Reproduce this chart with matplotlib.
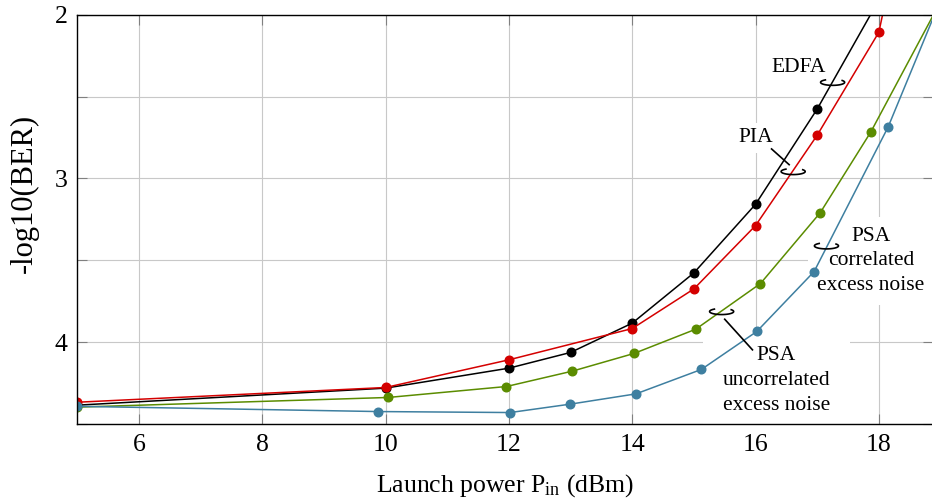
import numpy as np
import matplotlib.pyplot as plt
from matplotlib.ticker import MultipleLocator

plt.rcParams['font.family'] = 'Liberation Serif'
plt.rcParams['mathtext.fontset'] = 'custom'
plt.rcParams['mathtext.rm'] = 'Liberation Serif'
plt.rcParams['mathtext.it'] = 'Liberation Serif:italic'

# Data (launch power in dBm, -log10(BER))
edfa_x = [5, 10, 12, 13, 14, 15, 16, 17, 18]
edfa_y = [4.385, 4.281, 4.159, 4.063, 3.884, 3.577, 3.158, 2.576, 1.91]

pia_x = [5, 10, 12, 14, 15, 16, 17, 18, 19]
pia_y = [4.367, 4.277, 4.108, 3.917, 3.675, 3.288, 2.736, 2.107, 0.33]

psa_unc_x = [5, 10.04, 11.96, 13.03, 14.03, 15.03, 16.08, 17.05, 17.87, 19.0]
psa_unc_y = [4.397, 4.338, 4.271, 4.177, 4.069, 3.921, 3.642, 3.209, 2.716, 1.92]

psa_cor_x = [5, 9.88, 12.02, 12.99, 14.06, 15.12, 16.02, 16.95, 18.15, 19.1]
psa_cor_y = [4.392, 4.424, 4.430, 4.379, 4.316, 4.167, 3.935, 3.569, 2.686, 1.82]

x_ticks = [6, 8, 10, 12, 14, 16, 18]
y_ticks = [2, 3, 4]

colors = ['black', '#d40000', '#5b8c00', '#3e7fa0']

fig = plt.figure(figsize=(9.32, 5.01), dpi=100)
ax = fig.add_axes([77.3 / 932, 77 / 501, 855.2 / 932, 409.3 / 501])

series = [(edfa_x, edfa_y), (pia_x, pia_y), (psa_unc_x, psa_unc_y), (psa_cor_x, psa_cor_y)]
for (xs, ys), c in zip(series, colors):
    ax.plot(xs, ys, '-o', color=c, lw=1.1, ms=6.2, zorder=2)

ax.set_xlim(5, 18.87)
ax.set_ylim(4.5, 2.0)  # inverted: 2 at the top
ax.set_xticks(x_ticks)
ax.set_yticks(y_ticks)
ax.yaxis.set_minor_locator(MultipleLocator(0.5))

ax.set_axisbelow(True)
ax.grid(True, which='both', axis='y', color='#c8c8c8', lw=0.8)
ax.grid(True, which='major', axis='x', color='#c8c8c8', lw=0.8)
ax.tick_params(which='both', direction='in', top=True, right=True, length=7,
               width=0.8, color='#808080', labelsize=18.5, pad=7)
for s in ax.spines.values():
    s.set_linewidth(1.0)

ax.set_xlabel(r'Launch power P$_{\mathrm{in}}$ (dBm)', fontsize=18.5)
ax.set_ylabel('-log10(BER)', fontsize=22)
ax.xaxis.set_label_coords(0.5, -0.118)
ax.yaxis.set_label_coords(-0.045, 0.564)


def ring(cx, cy, w=0.39, h=0.037):
    # small open ellipse marking a group of curves (gap at the top)
    t = np.radians(np.linspace(-37, 233, 120))
    ax.plot(cx + w / 2 * np.cos(t), cy + h / 2 * np.sin(t), color='black', lw=1.2, zorder=3)


box = dict(boxstyle='square,pad=0.25', fc='white', ec='none')
ax.text(16.70, 2.325, 'EDFA', ha='center', va='center', fontsize=15.5, bbox=box, zorder=1.8)
ring(17.25, 2.413)

ax.text(16.005, 2.753, 'PIA', ha='center', va='center', fontsize=15.5, bbox=box, zorder=1.8)
ax.plot([16.26, 16.545], [2.82, 2.916], color='black', lw=1.2, zorder=3)
ring(16.61, 2.958)

ax.text(17.87, 3.504, 'PSA\ncorrelated\nexcess noise', ha='center', va='center',
        fontsize=15.5, multialignment='center', linespacing=1.4,
        bbox=dict(boxstyle='square,pad=0.45', fc='white', ec='none'), zorder=1.8)
ring(17.15, 3.412)

ax.text(16.34, 4.234, 'PSA\nuncorrelated\nexcess noise', ha='center', va='center',
        fontsize=15.5, multialignment='center', linespacing=1.4,
        bbox=dict(boxstyle='square,pad=0.9', fc='white', ec='none'), zorder=1.8)
ax.plot([15.50, 15.95], [3.86, 4.047], color='black', lw=1.2, zorder=3)
ring(15.45, 3.813)

plt.savefig('out.png', dpi=100)
